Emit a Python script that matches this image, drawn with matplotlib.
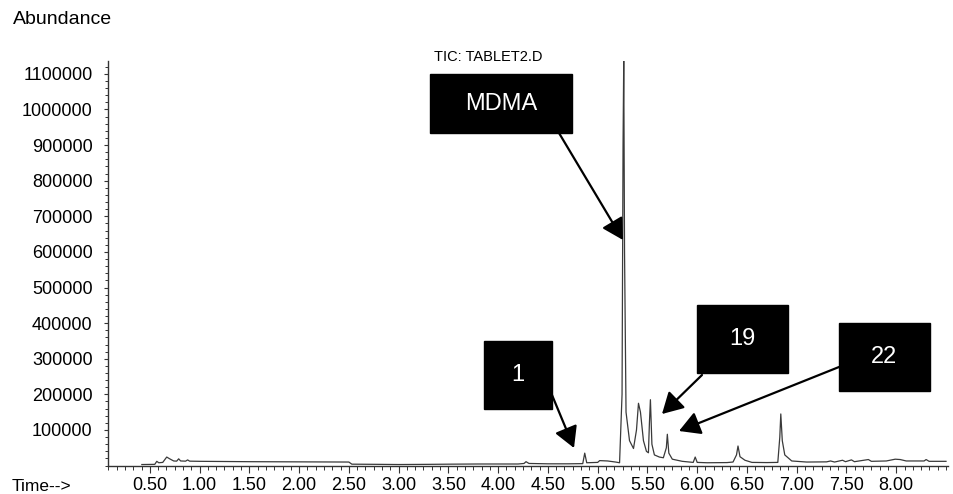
import numpy as np
import matplotlib
matplotlib.use('Agg')
import matplotlib.pyplot as plt
from matplotlib.ticker import FixedLocator, MultipleLocator
from matplotlib.patches import Rectangle, FancyArrowPatch

plt.rcParams['font.family'] = ['Liberation Sans', 'DejaVu Sans']

# TIC trace: retention time [min], abundance
time_min = [0.42, 0.55, 0.57, 0.59, 0.63, 0.67, 0.70, 0.74, 0.77, 0.79, 0.81, 0.86, 0.88, 0.90,
            1.00, 1.50, 2.00, 2.50, 2.53, 2.80, 3.00, 3.30, 3.50, 3.80, 4.00, 4.20, 4.26, 4.28,
            4.31, 4.50, 4.70, 4.85, 4.87, 4.89, 5.00, 5.02, 5.10, 5.18, 5.22, 5.245, 5.255,
            5.262, 5.27, 5.285, 5.32, 5.36, 5.39, 5.41, 5.43, 5.46, 5.49, 5.51, 5.52, 5.53,
            5.545, 5.57, 5.62, 5.66, 5.69, 5.70, 5.715, 5.75, 5.85, 5.96, 5.98, 6.00, 6.10,
            6.30, 6.36, 6.395, 6.41, 6.43, 6.48, 6.55, 6.70, 6.81, 6.83, 6.84, 6.855, 6.88,
            6.95, 7.10, 7.30, 7.34, 7.38, 7.46, 7.49, 7.55, 7.58, 7.72, 7.75, 7.90, 7.99,
            8.04, 8.10, 8.28, 8.30, 8.33, 8.50]
abundance = [3000, 3500, 12000, 8000, 9000, 24000, 19000, 13000, 12500, 19000, 13000, 12500, 16000, 12500,
             12000, 11000, 10500, 10000, 4000, 3500, 3000, 3500, 4000, 4500, 4500, 4500, 6000, 11000,
             6000, 5000, 5000, 5500, 35000, 8000, 9000, 14000, 13000, 10000, 8000, 200000, 900000,
             1140000, 600000, 150000, 70000, 48000, 100000, 175000, 150000, 70000, 40000, 36000, 120000, 185000,
             60000, 30000, 24000, 22000, 50000, 88000, 35000, 18000, 12000, 9000, 24000, 9000, 8000,
             8500, 10000, 30000, 55000, 25000, 15000, 9000, 8500, 9000, 80000, 145000, 70000, 30000,
             13000, 10000, 10500, 13000, 10000, 15000, 11000, 16000, 11000, 17000, 12000, 13000, 18000,
             17000, 13000, 13000, 17000, 12000, 12000]

x_labels = [0.5, 1.0, 1.5, 2.0, 2.5, 3.0, 3.5, 4.0, 4.5, 5.0, 5.5, 6.0, 6.5, 7.0, 7.5, 8.0]
y_labels = [100000, 200000, 300000, 400000, 500000, 600000, 700000, 800000, 900000, 1000000, 1100000]

W, H = 954, 494
fig = plt.figure(figsize=(W / 100, H / 100), dpi=100)
ax = fig.add_axes([108 / W, 1 - 465.6 / H, 840 / W, (465.6 - 61) / H])

ax.plot(time_min, abundance, color='#3a3a3a', lw=0.9)
ax.set_xlim(0.08, 8.52)
ax.set_ylim(0, 1136000)

ax.xaxis.set_major_locator(FixedLocator(x_labels))
ax.xaxis.set_minor_locator(MultipleLocator(1 / 12))
ax.set_xticklabels([f'{v:.2f}' for v in x_labels])
ax.yaxis.set_major_locator(FixedLocator(y_labels))
ax.yaxis.set_minor_locator(MultipleLocator(20000))
ax.set_yticklabels([str(v) for v in y_labels])

fs = 13
ax.tick_params(axis='x', which='major', length=5, width=0.8, pad=3, labelsize=fs, color='#333333')
ax.tick_params(axis='x', which='minor', length=3, width=0.7, color='#333333')
ax.tick_params(axis='y', which='major', length=3, width=0.8, pad=8, labelsize=fs, color='#333333')
ax.tick_params(axis='y', which='minor', length=2, width=0.7, color='#333333')
for s in ['top', 'right']:
  ax.spines[s].set_visible(False)
for s in ['left', 'bottom']:
  ax.spines[s].set_linewidth(1.0)
  ax.spines[s].set_color('#333333')

def px(x, y):
  return (x / W, 1 - y / H)

fig.text(*px(13, 20), 'Abundance', fontsize=14, ha='left', va='center')
fig.text(*px(12, 486), 'Time-->', fontsize=12.5, ha='left', va='center')
fig.text(*px(488, 57), 'TIC: TABLET2.D', fontsize=10.5, ha='center', va='center')

# labelled boxes: (left, top, right, bottom) in pixels, arrow start, arrow tip
boxes = [
  ('MDMA', (430, 74, 572, 133), (559, 133), (623, 240)),
  ('1', (484, 341, 552, 409), (552, 395), (574, 448)),
  ('19', (697, 305, 788, 373), (702, 375), (662, 414)),
  ('22', (839, 323, 930, 391), (839, 367), (679, 431)),
]
for label, (l, t, r, b), start, tip in boxes:
  x0, y0 = px(l, b)
  x1, y1 = px(r, t)
  fig.patches.append(Rectangle((x0, y0), x1 - x0, y1 - y0, transform=fig.transFigure,
                               facecolor='black', edgecolor='black'))
  fig.text((x0 + x1) / 2, (y0 + y1) / 2, label, color='white', fontsize=17,
           ha='center', va='center')
  arr = FancyArrowPatch(px(*start), px(*tip), transform=fig.transFigure,
                        arrowstyle='-|>,head_length=0.8,head_width=0.45', mutation_scale=16,
                        lw=1.6, color='black', shrinkA=0, shrinkB=0)
  fig.patches.append(arr)

fig.savefig('out.png', dpi=100)
